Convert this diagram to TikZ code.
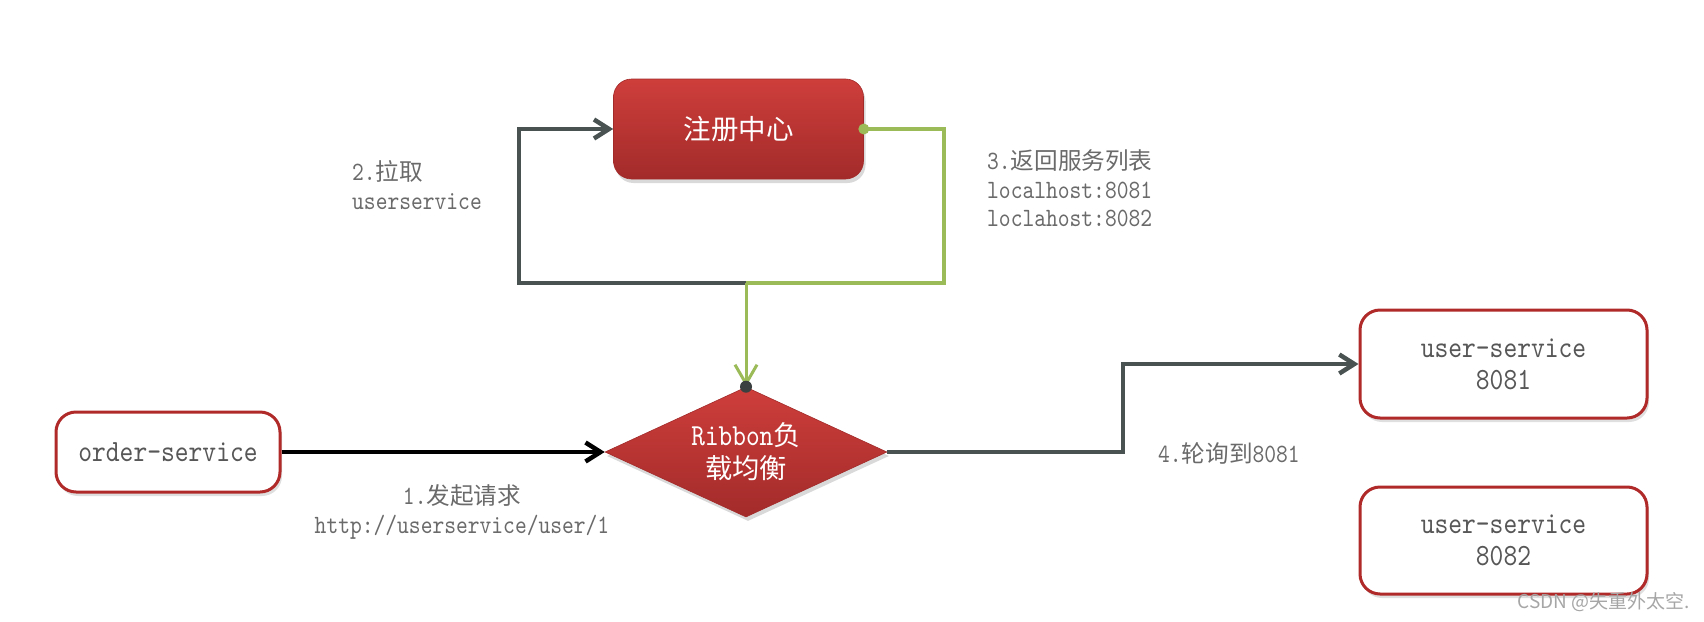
\documentclass[tikz,border=0pt]{standalone}
\usepackage{fontspec}
\setmonofont{lmmono10-regular.otf}[FakeStretch=0.85]
\newfontfamily\cjk[Scale=1.05]{Noto Sans CJK SC}
\newfontfamily\wmfont{Noto Sans CJK SC}
\usetikzlibrary{arrows.meta,shapes.geometric,shadows}
\definecolor{redtop}{HTML}{CE3E3B}
\definecolor{redbot}{HTML}{A22B2A}
\definecolor{redborder}{HTML}{B02A2A}
\definecolor{linegray}{HTML}{4A5251}
\definecolor{linegreen}{HTML}{9BBB59}
\definecolor{dotgray}{HTML}{3A3F3F}
\definecolor{labgray}{HTML}{6A6A6A}
\definecolor{boxtext}{HTML}{575757}
\begin{document}
\begin{tikzpicture}[x=1pt,y=-1pt,
  redshape/.style={top color=redtop, bottom color=redbot, draw=redbot, line width=0.6pt,
    drop shadow={opacity=0.3, shadow xshift=2pt, shadow yshift=-4pt}, text=white, align=center,
    font=\fontsize{30.6}{33}\selectfont\ttfamily},
  whitebox/.style={rounded corners=20pt, draw=redborder, line width=3pt, fill=white,
    drop shadow={opacity=0.25, shadow xshift=2pt, shadow yshift=-4pt}, text=boxtext, align=center,
    font=\fontsize{30.9}{32}\selectfont\ttfamily},
  lab/.style={text=labgray, inner sep=0pt, font=\fontsize{26.4}{29}\selectfont\ttfamily},
  barb/.style={-{Straight Barb[length=15pt,width=19pt]}},
  grayline/.style={draw=linegray, line width=4.5pt},
  blackline/.style={draw=black, line width=4.5pt},
  greenline/.style={draw=linegreen, line width=4pt}
]
\useasboundingbox (0,0) rectangle (1704,621);

% nodes
\node[redshape, rounded corners=18pt, minimum width=250pt, minimum height=100pt,
  font=\fontsize{26.2}{33}\selectfont] (reg) at (738.5,129) {\cjk 注册中心};
\node[redshape, diamond, aspect=2.17, minimum width=282pt, minimum height=130pt, inner sep=0pt] (rib) at (746,452) {Ribbon{\cjk\fontsize{26}{33}\selectfont 负}\\{\cjk\fontsize{26}{33}\selectfont 载均衡}};
\node[whitebox, minimum width=224pt, minimum height=80pt] (order) at (168,452) {order-service};
\node[whitebox, minimum width=287pt, minimum height=108pt] (u1) at (1503.5,364) {user-service\\8081};
\node[whitebox, minimum width=287pt, minimum height=107pt] (u2) at (1503.5,540.5) {user-service\\8082};

\coordinate (j) at (746,283);
\coordinate (gl) at (519,283);
\coordinate (gr) at (944,283);
\coordinate (u1turn) at (1123,452);

% connectors
\draw[grayline, barb] (j) -- (gl) |- (reg.west);
\draw[greenline] (reg.east) -| (gr) -- (j);
\draw[draw=linegreen, line width=3pt, -{Straight Barb[length=19pt,width=22pt]}] (j) -- (rib.north);
\fill[linegreen] (reg.east) circle (5.5pt);
\fill[dotgray] (rib.north) circle (6pt);
\draw[blackline, barb] (order.east) -- (rib.west);
\draw[grayline, barb] (rib.east) -- (u1turn) |- (u1.west);

% labels
\newcommand{\cz}[1]{{\cjk\fontsize{22.5}{29}\selectfont #1}}
\node[lab, anchor=west, align=left] (l2) at (352,185) {2.\cz{拉取}\\userservice};
\node[lab, anchor=west, align=left, font=\fontsize{26.4}{28.5}\selectfont\ttfamily] (l3) at (987,188.5) {3.\cz{返回服务列表}\\localhost:8081\\loclahost:8082};
\node[lab, align=center] (l1) at (462,511.5) {1.\cz{发起请求}\\http://userservice/user/1};
\node[lab, anchor=west] (l4) at (1158,453) {4.\cz{轮询到}8081};
\node[text=black!35, inner sep=0pt, anchor=east, font=\fontsize{19}{22}\selectfont\wmfont] (wm) at (1690,602) {CSDN @失重外太空.};
\end{tikzpicture}
\end{document}
